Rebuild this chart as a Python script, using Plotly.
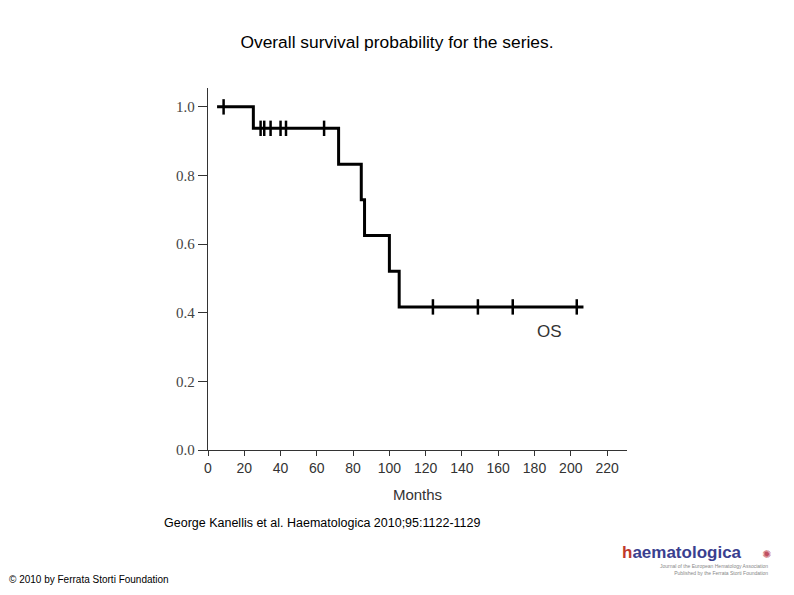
import plotly.graph_objects as go

# Kaplan-Meier step curve (months, survival probability)
step_months = [5, 25, 25, 72, 72, 84.5, 84.5, 86.3, 86.3, 100, 100, 105.4, 105.4, 207]
step_surv = [1.0, 1.0, 0.9375, 0.9375, 0.833, 0.833, 0.729, 0.729, 0.625, 0.625, 0.521, 0.521, 0.417, 0.417]

# Censored observations
censor_months = [8.6, 29, 31, 34.5, 40, 43, 64, 124, 148.8, 168, 203.3]
censor_surv = [1.0, 0.9375, 0.9375, 0.9375, 0.9375, 0.9375, 0.9375, 0.417, 0.417, 0.417, 0.417]

x_ticks = [0, 20, 40, 60, 80, 100, 120, 140, 160, 180, 200, 220]
y_ticks = [0.0, 0.2, 0.4, 0.6, 0.8, 1.0]
y_tick_labels = ["0.0", "0.2", "0.4", "0.6", "0.8", "1.0"]

fig = go.Figure()
fig.add_trace(go.Scatter(
    x=step_months, y=step_surv, mode="lines",
    line=dict(color="black", width=3), hoverinfo="skip", showlegend=False,
))
fig.add_trace(go.Scatter(
    x=censor_months, y=censor_surv, mode="markers",
    marker=dict(symbol="line-ns", size=11, line=dict(color="black", width=2.5)),
    showlegend=False,
))

fig.add_annotation(x=188, y=0.345, text="OS", showarrow=False, xref="x", yref="y",
                   font=dict(family="Liberation Sans Narrow, Liberation Sans, Arial", size=17, color="#333333"))

fig.update_xaxes(
    range=[0, 231], tickvals=x_ticks, ticktext=[str(v) for v in x_ticks],
    showline=True, linecolor="#333333", linewidth=1.3, ticks="outside", ticklen=5,
    tickcolor="#333333", showgrid=False, zeroline=False,
    tickfont=dict(family="Liberation Sans Narrow, Liberation Sans, Arial", size=14, color="#333333"),
    title=dict(text="Months", standoff=14,
               font=dict(family="Liberation Sans Narrow, Liberation Sans, Arial", size=15, color="#333333")),
)
fig.update_yaxes(
    range=[0, 1.055], tickvals=y_ticks, ticktext=y_tick_labels,
    showline=True, linecolor="#333333", linewidth=1.3, ticks="outside", ticklen=9,
    tickcolor="#333333", showgrid=False, zeroline=False,
    tickfont=dict(family="Liberation Serif, Times New Roman", size=15, color="#444444"),
)

fig.update_layout(
    width=794, height=595,
    margin=dict(l=208, r=167, t=88, b=145),
    paper_bgcolor="white", plot_bgcolor="white",
    title=dict(text="Overall survival probability for the series.", x=0.5, xref="container",
               y=1 - 42 / 595, yref="container", yanchor="middle", xanchor="center",
               font=dict(family="Liberation Sans, Arial", size=17.4, color="black")),
)

fig.add_annotation(text="George Kanellis et al. Haematologica 2010;95:1122-1129",
                   xref="paper", yref="paper", x=(162 - 208) / 419, y=-(523 - 450) / 362,
                   xanchor="left", yanchor="middle", showarrow=False,
                   font=dict(family="Liberation Sans, Arial", size=12.5, color="black"))
fig.add_annotation(text="© 2010 by Ferrata Storti Foundation",
                   xref="paper", yref="paper", x=(7 - 208) / 419, y=-(579 - 450) / 362,
                   xanchor="left", yanchor="middle", showarrow=False,
                   font=dict(family="Liberation Sans, Arial", size=10, color="black"))
# Logo approximation
fig.add_annotation(text="<b><span style='color:#c0392b'>h</span>aematologica</b>",
                   xref="paper", yref="paper", x=(620 - 208) / 419, y=-(552 - 450) / 362,
                   xanchor="left", yanchor="middle", showarrow=False,
                   font=dict(family="Liberation Sans, Arial", size=17, color="#3a3f8f"))
fig.add_annotation(text="Journal of the European Hematology Association<br>Published by the Ferrata Storti Foundation",
                   xref="paper", yref="paper", x=(770 - 208) / 419, y=-(569 - 450) / 362,
                   xanchor="right", yanchor="middle", showarrow=False, align="right",
                   font=dict(family="Liberation Sans, Arial", size=5, color="#888888"))
fig.add_annotation(text="✺", xref="paper", yref="paper", x=(766 - 208) / 419, y=-(554 - 450) / 362,
                   xanchor="center", yanchor="middle", showarrow=False,
                   font=dict(family="DejaVu Sans", size=11, color="#c05060"))

fig.write_html("out.html")
